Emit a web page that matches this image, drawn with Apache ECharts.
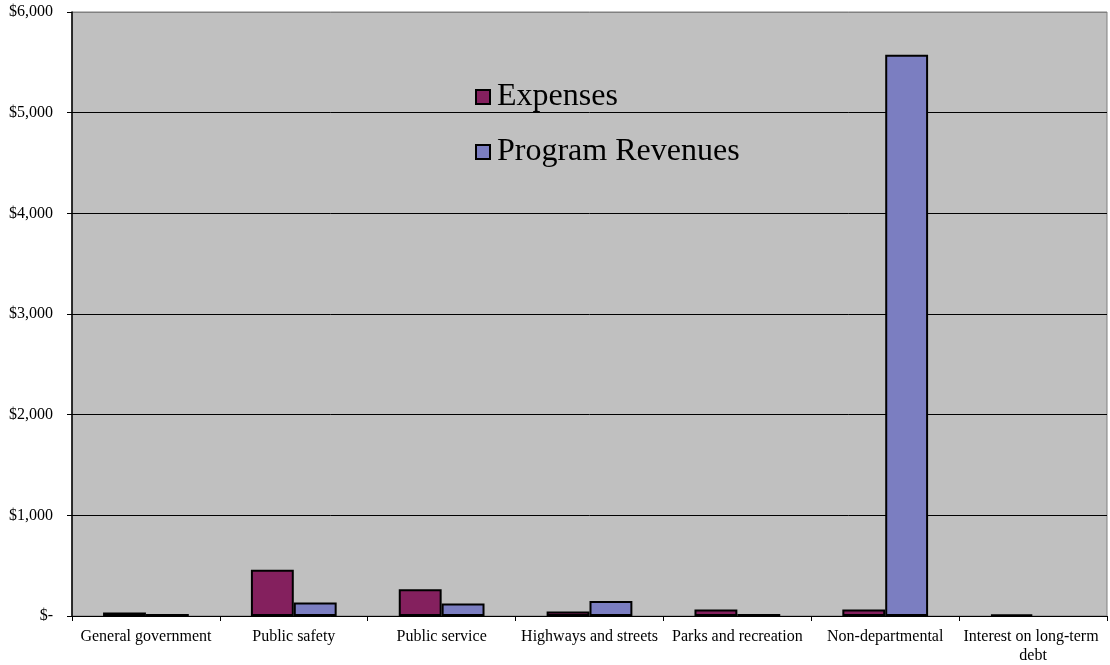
<!DOCTYPE html>
<html><head><meta charset="utf-8">
<script src="https://cdn.jsdelivr.net/npm/echarts@6/dist/echarts.min.js"></script>
<style>html,body{margin:0;padding:0;background:#fff}#c{width:1110px;height:665px}</style>
</head><body><div id="c"></div>
<script>
const categories = ["General government","Public safety","Public service","Highways and streets","Parks and recreation","Non-departmental","Interest on long-term debt"];
const expenses = [35, 460, 265, 45, 65, 65, 15];
const programRevenues = [20, 135, 125, 150, 20, 5575, null];
const yTicks = [0, 1000, 2000, 3000, 4000, 5000, 6000];

const chart = echarts.init(document.getElementById('c'));
const font = '"Liberation Serif", "Times New Roman", serif';
chart.setOption({
  animation: false,
  backgroundColor: '#fff',
  grid: {left: 72, right: 3, top: 12, bottom: 48, show: true, backgroundColor: '#C0C0C0', borderColor: '#808080', borderWidth: 1},
  legend: {
    orient: 'vertical', left: 470, top: 76, itemGap: 23, itemWidth: 14, itemHeight: 14,
    icon: 'rect',
    textStyle: {fontFamily: font, fontSize: 32, color: '#000', padding: [0,0,0,2]},
    data: ['Expenses', 'Program Revenues']
  },
  xAxis: {
    type: 'category', data: categories,
    axisLine: {lineStyle: {color: '#000', width: 1}},
    axisTick: {show: true, length: 5, lineStyle: {color: '#000'}},
    axisLabel: {fontFamily: font, fontSize: 16, color: '#000', interval: 0, margin: 11, width: 146, overflow: 'break', lineHeight: 19}
  },
  yAxis: {
    type: 'value', min: 0, max: 6000, interval: 1000,
    axisLine: {show: true, lineStyle: {color: '#000', width: 1.5}},
    axisTick: {show: true, length: 5, lineStyle: {color: '#000'}},
    splitLine: {lineStyle: {color: yTicks.map((v, i) => i === yTicks.length - 1 ? '#808080' : '#000'), width: 1}},
    axisLabel: {fontFamily: font, fontSize: 16, color: '#000', margin: 19,
      formatter: v => v === 0 ? '$-' : '$' + v.toLocaleString('en-US')}
  },
  series: [
    {name: 'Expenses', type: 'bar', data: expenses, barGap: '0%', barCategoryGap: '42%',
     itemStyle: {color: '#84205E', borderColor: '#000', borderWidth: 2}},
    {name: 'Program Revenues', type: 'bar', data: programRevenues, barGap: '0%', barCategoryGap: '42%',
     itemStyle: {color: '#7B7EC1', borderColor: '#000', borderWidth: 2}}
  ]
});
</script></body></html>
